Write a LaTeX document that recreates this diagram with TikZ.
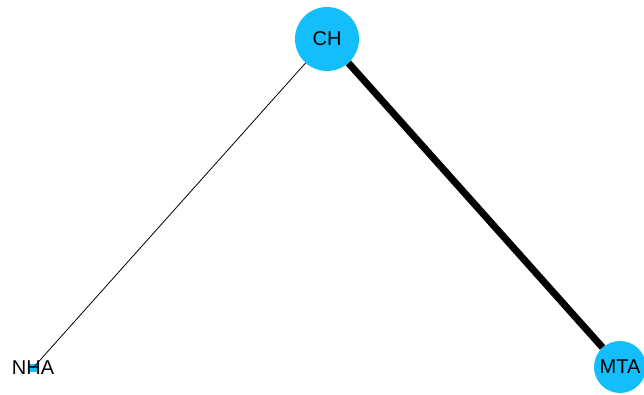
\documentclass[tikz,border=0pt]{standalone}
\usepackage{fontspec}
\setmainfont{Liberation Sans}
\definecolor{nodeblue}{RGB}{20,190,250}
\begin{document}
\begin{tikzpicture}[x=1pt,y=-1pt,
  bignode/.style={circle,fill=nodeblue,inner sep=0pt},
  lbl/.style={font=\fontsize{20}{23}\selectfont,text=black,inner sep=0pt}]
\useasboundingbox (0,0) rectangle (644,395);
\node[bignode,minimum size=64pt] (CH) at (327,39) {};
\node[bignode,minimum size=52pt] (MTA) at (620,367) {};
\node[fill=nodeblue,minimum size=8pt,inner sep=0pt] (NHA) at (33,368) {};
\draw[line width=0.8pt] (NHA.center) -- (CH);
\draw[line width=7pt] (CH) -- (MTA);
\node[lbl] (CHt) at (CH) {CH};
\node[lbl] (MTAt) at (MTA) {MTA};
\node[lbl] (NHAt) at (NHA) {NHA};
\end{tikzpicture}
\end{document}
